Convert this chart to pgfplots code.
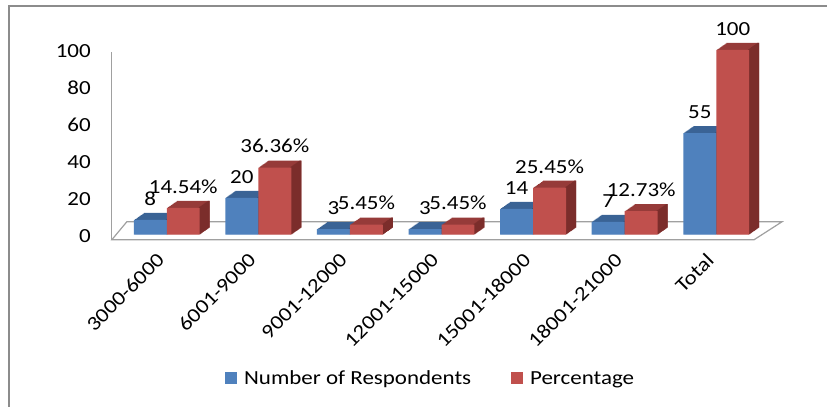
\documentclass[border=0pt]{standalone}
\usepackage{pgfplots}
\pgfplotsset{compat=1.18}
\usepackage{pgfplotstable}
\usepackage{fontspec}
\setmainfont{Carlito}[FakeStretch=1.15]
\definecolor{bfront}{HTML}{4F81BD}
\definecolor{btop}{HTML}{3A6395}
\definecolor{bside}{HTML}{2E4F78}
\definecolor{rfront}{HTML}{C0504D}
\definecolor{rtop}{HTML}{963B39}
\definecolor{rside}{HTML}{7B2D2B}
\definecolor{framegray}{HTML}{8C8C8C}
\definecolor{floorgray}{HTML}{A0A0A0}

\pgfplotstableread{
x blue red bluelab redlab
0 8 14.54 8 14.54\%
1 20 36.36 20 36.36\%
2 3 5.45 3 5.45\%
3 3 5.45 3 5.45\%
4 14 25.45 14 25.45\%
5 7 12.73 7 12.73\%
6 55 100 55 100
}\data

\begin{document}
\begin{tikzpicture}[x=1pt,y=1pt]
\path (0,0) rectangle (828,407);
\draw[framegray, line width=2pt] (9,0) -- (9,401) -- (828,401);
\draw[floorgray, line width=1.2pt, fill=white] (112,167) -- (755,167) -- (783,185) -- (127,185) -- cycle;
\draw[floorgray, line width=1.2pt] (112,167) -- (112,355);
\begin{axis}[
  at={(115pt,172pt)}, anchor=south west,
  scale only axis, width=640pt, height=185pt,
  xmin=-0.567, xmax=6.413, ymin=0, ymax=100,
  clip=false,
  axis line style={draw=none}, tick style={draw=none},
  xtick={0,...,6},
  xticklabels={3000-6000,6001-9000,9001-12000,12001-15000,15001-18000,18001-21000,Total},
  xticklabel style={xshift=-11pt, yshift=-17pt, rotate=45, anchor=north east, inner sep=0pt},
  ytick={0,20,...,100},
  yticklabel style={anchor=east, inner sep=0pt, xshift=-24pt, yshift=-1pt},
  /pgf/number format/assume math mode=true,
  tick label style={font=\fontsize{20}{24}\selectfont, text=black},
  legend columns=2,
  legend style={at={(axis description cs:0.494,-0.778)}, anchor=center, draw=none, fill=none,
    font=\fontsize{20}{24}\selectfont,
    /tikz/every odd column/.append style={column sep=5pt},
    /tikz/every even column/.append style={column sep=38pt}},
  legend image code/.code={\fill[#1] (0pt,-6pt) rectangle (12pt,6pt);},
  every node near coord/.append style={font=\fontsize{20}{24}\selectfont, text=black, yshift=11pt},
]
% blue extrusion
\pgfplotsinvokeforeach{1,...,10}{
  \addplot[ybar, bar width=33pt, bar shift=-16.5pt, xshift=#1pt, yshift={0.7*#1pt}, fill=btop, draw=none, forget plot] table[x=x,y=blue]{\data};
}
\pgfplotsinvokeforeach{1,...,10}{
  \addplot[ybar, bar width=2pt, bar shift=-1pt, xshift=#1pt, yshift={0.7*#1pt}, fill=bside, draw=none, forget plot] table[x=x,y=blue]{\data};
}
\addplot[ybar, bar width=33pt, bar shift=-16.5pt, fill=bfront, draw=none,
  nodes near coords, point meta=explicit symbolic,
  every node near coord/.append style={xshift=-16.5pt}] table[x=x,y=blue,meta=bluelab]{\data};
\addlegendentry{Number of Respondents}
% red extrusion
\pgfplotsinvokeforeach{1,...,10}{
  \addplot[ybar, bar width=33pt, bar shift=16.5pt, xshift=#1pt, yshift={0.7*#1pt}, fill=rtop, draw=none, forget plot] table[x=x,y=red]{\data};
}
\pgfplotsinvokeforeach{1,...,10}{
  \addplot[ybar, bar width=2pt, bar shift=32pt, xshift=#1pt, yshift={0.7*#1pt}, fill=rside, draw=none, forget plot] table[x=x,y=red]{\data};
}
\addplot[ybar, bar width=33pt, bar shift=16.5pt, fill=rfront, draw=none,
  nodes near coords, point meta=explicit symbolic,
  every node near coord/.append style={xshift=16.5pt}] table[x=x,y=red,meta=redlab]{\data};
\addlegendentry{Percentage}
\end{axis}
\end{tikzpicture}
\end{document}
